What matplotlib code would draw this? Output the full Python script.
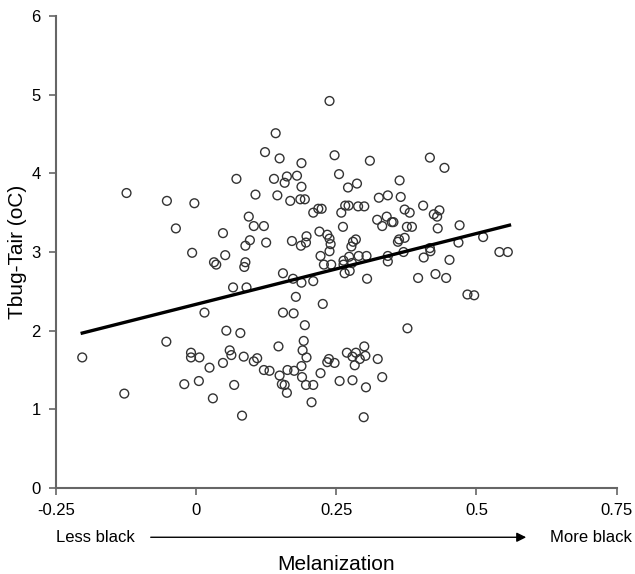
import matplotlib.pyplot as plt
import numpy as np

plt.rcParams['font.family'] = ['Liberation Sans', 'DejaVu Sans']

# melanization score vs body-air temperature difference
melan = [
    -0.124, -0.052, -0.003, 0.072, 0.106, -0.036, 0.094, 0.103, 0.048, 0.096,
    0.088, -0.007, 0.052, 0.032, 0.036, 0.088, 0.086, 0.066, 0.090,
    0.238, 0.142, 0.123, 0.149, 0.188, 0.247, 0.310, 0.417, 0.443,
    0.139, 0.162, 0.158, 0.180, 0.188, 0.255, 0.271, 0.287, 0.363,
    0.145, 0.168, 0.186, 0.194, 0.326, 0.342, 0.365, 0.405,
    0.209, 0.218, 0.224, 0.259, 0.266, 0.272, 0.289, 0.300, 0.372, 0.381,
    0.424, 0.434, 0.430, 0.121, 0.323, 0.340, 0.332, 0.349, 0.352, 0.262,
    0.376, 0.385, 0.431, 0.125, 0.171, 0.187, 0.197, 0.196, 0.220, 0.234,
    0.238, 0.240, 0.238, 0.222, 0.228, 0.241, 0.280, 0.285, 0.277, 0.263,
    0.263, 0.273, 0.290, 0.304, 0.278, 0.265, 0.274, 0.305, 0.360, 0.362,
    0.372, 0.370, 0.342, 0.342, 0.417, 0.418, 0.406, 0.452, 0.396, 0.427,
    0.446, 0.155, 0.173, 0.188, 0.209, 0.178,
    0.470, 0.468, 0.512, 0.541, 0.556, 0.484, 0.496,
    -0.203, -0.128, -0.053, 0.015, 0.054, 0.079, -0.009, -0.009, 0.006, 0.024,
    0.048, 0.060, 0.063, 0.085, 0.103, 0.109, -0.021, 0.005, 0.030, 0.068,
    0.082,
    0.226, 0.155, 0.174, 0.194, 0.377, 0.147, 0.192, 0.190, 0.197, 0.121,
    0.131, 0.163, 0.175, 0.188, 0.149, 0.189, 0.153, 0.158, 0.162, 0.196,
    0.209, 0.206, 0.222, 0.237, 0.234, 0.247, 0.256, 0.269, 0.279, 0.285,
    0.279, 0.283, 0.292, 0.300, 0.302, 0.303, 0.324, 0.332, 0.299,
]
dtemp = [
    3.75, 3.65, 3.62, 3.93, 3.73, 3.30, 3.45, 3.33, 3.24, 3.15,
    3.08, 2.99, 2.96, 2.87, 2.84, 2.87, 2.81, 2.55, 2.55,
    4.92, 4.51, 4.27, 4.19, 4.13, 4.23, 4.16, 4.20, 4.07,
    3.93, 3.96, 3.88, 3.97, 3.83, 3.99, 3.82, 3.87, 3.91,
    3.72, 3.65, 3.67, 3.67, 3.69, 3.72, 3.70, 3.59,
    3.50, 3.55, 3.55, 3.50, 3.59, 3.59, 3.58, 3.58, 3.54, 3.50,
    3.48, 3.53, 3.45, 3.33, 3.41, 3.45, 3.33, 3.38, 3.38, 3.32,
    3.32, 3.32, 3.30, 3.12, 3.14, 3.08, 3.20, 3.12, 3.26, 3.22,
    3.17, 3.10, 3.01, 2.95, 2.84, 2.84, 3.13, 3.16, 3.07, 2.89,
    2.84, 2.94, 2.95, 2.95, 2.86, 2.73, 2.76, 2.66, 3.13, 3.16,
    3.18, 3.00, 2.95, 2.88, 3.05, 3.01, 2.93, 2.90, 2.67, 2.72,
    2.67, 2.73, 2.66, 2.61, 2.63, 2.43,
    3.34, 3.12, 3.19, 3.00, 3.00, 2.46, 2.45,
    1.66, 1.20, 1.86, 2.23, 2.00, 1.97, 1.72, 1.66, 1.66, 1.53,
    1.59, 1.75, 1.69, 1.67, 1.61, 1.65, 1.32, 1.36, 1.14, 1.31,
    0.92,
    2.34, 2.23, 2.22, 2.07, 2.03, 1.80, 1.87, 1.75, 1.66, 1.50,
    1.49, 1.50, 1.49, 1.55, 1.43, 1.41, 1.32, 1.31, 1.21, 1.31,
    1.31, 1.09, 1.46, 1.64, 1.60, 1.59, 1.36, 1.72, 1.37, 1.72,
    1.67, 1.56, 1.64, 1.80, 1.68, 1.28, 1.64, 1.41, 0.90,
]

# fitted trend line
fit_x = [-0.203, 0.559]
slope = 1.80
intercept = 2.335

fig = plt.figure(figsize=(6.35, 5.74), dpi=100)
ax = fig.add_axes([0.088, 0.1498, 0.883, 0.8223])

ax.scatter(melan, dtemp, s=40, facecolors='none', edgecolors='#333333',
           linewidths=1.0, zorder=3)

fx = np.array(fit_x)
ax.plot(fx, slope * fx + intercept, color='black', lw=2.4, zorder=4)

ax.set_xlim(-0.25, 0.75)
ax.set_ylim(0, 6)
ax.set_xticks([-0.25, 0, 0.25, 0.5, 0.75])
ax.set_xticklabels(['-0.25', '0', '0.25', '0.5', '0.75'])
ax.set_yticks([0, 1, 2, 3, 4, 5, 6])

for s in ['top', 'right']:
    ax.spines[s].set_visible(False)
for s in ['left', 'bottom']:
    ax.spines[s].set_color('#666666')
    ax.spines[s].set_linewidth(1.5)
ax.tick_params(direction='out', length=5, width=1.2, color='#666666',
               labelsize=12, pad=6)

ax.set_ylabel('Tbug-Tair (oC)', fontsize=15, labelpad=3)

# arrow label under the x axis
fig.text(0.088, 0.064, 'Less black', fontsize=12, va='center', ha='left')
fig.text(0.995, 0.064, 'More black', fontsize=12, va='center', ha='right')
fig.patches.append(plt.matplotlib.patches.FancyArrowPatch(
    (0.233, 0.064), (0.833, 0.064), transform=fig.transFigure,
    arrowstyle='-|>', mutation_scale=14, color='black', lw=1.0))
fig.text(0.53, 0.016, 'Melanization', fontsize=15, ha='center', va='center')

fig.savefig('out.png', dpi=100)
